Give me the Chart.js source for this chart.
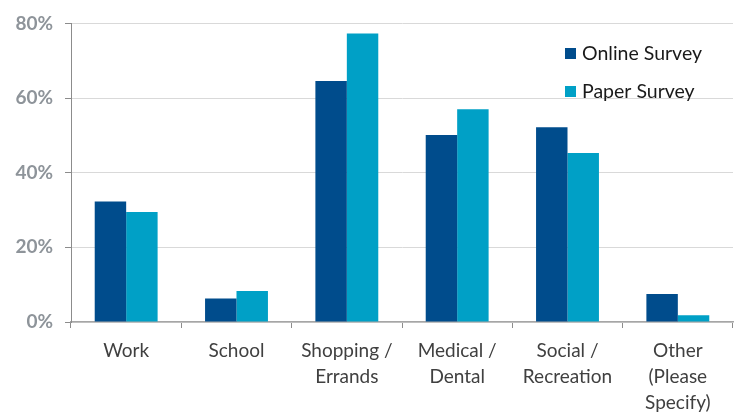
<!DOCTYPE html>
<html>
<head>
<meta charset="utf-8">
<script src="https://cdn.jsdelivr.net/npm/chart.js@4"></script>
<style>
  html, body { margin: 0; padding: 0; background: #ffffff; }
  #wrap { width: 742px; height: 417px; position: relative; }
</style>
</head>
<body>
<div id="wrap"><canvas id="trip_purpose_chart"></canvas></div>
<script>
const trip_categories = [
    ["Work"],
    ["School"],
    ["Shopping /", "Errands"],
    ["Medical /", "Dental"],
    ["Social /", "Recreation"],
    ["Other", "(Please", "Specify)"]
];
const online_survey_values = [32.3, 6.3, 64.6, 50.1, 52.2, 7.5];
const paper_survey_values = [29.5, 8.3, 77.3, 57.0, 45.3, 1.8];
const y_tick_values = [0, 20, 40, 60, 80];

const series_names = ["Online Survey", "Paper Survey"];
const series_colors = ["#004c8c", "#00a0c6"];

// legend drawn inside the plot, top right, like the original
const inside_legend = {
    id: "inside_legend",
    afterDraw(chart)
    {
        const ctx = chart.ctx;
        ctx.save();
        ctx.font = "19.5px Lato, 'Open Sans', sans-serif";
        ctx.textBaseline = "middle";
        chart.data.datasets.forEach((ds, i) =>
        {
            const y = 54 + i * 38;
            ctx.fillStyle = ds.backgroundColor;
            ctx.fillRect(565, y - 6, 11, 11);
            ctx.fillStyle = "#1a1a1a";
            ctx.fillText(ds.label, 582, y);
        });
        ctx.restore();
    }
};

const trip_purpose_chart = new Chart("trip_purpose_chart",
{
    type: "bar",
    data:
    {
        labels: trip_categories,
        datasets:
        [
            {
                label: series_names[0],
                data: online_survey_values,
                backgroundColor: series_colors[0],
                categoryPercentage: 0.57,
                barPercentage: 1.0
            },
            {
                label: series_names[1],
                data: paper_survey_values,
                backgroundColor: series_colors[1],
                categoryPercentage: 0.57,
                barPercentage: 1.0
            }
        ]
    },
    options:
    {
        animation: false,
        responsive: true,
        maintainAspectRatio: false,
        layout:
        {
            padding: { top: 16, right: 9, left: 0, bottom: 0 }
        },
        plugins:
        {
            legend: { display: false },
            tooltip: { enabled: false }
        },
        scales:
        {
            x:
            {
                grid:
                {
                    offset: true,
                    drawOnChartArea: false,
                    drawTicks: true,
                    tickLength: 6,
                    tickColor: "#8c8c8c"
                },
                border: { color: "#a6a6a6", width: 1.5 },
                ticks:
                {
                    color: "#404040",
                    font: { family: "Lato, 'Open Sans', sans-serif", size: 19, lineHeight: 1.37 },
                    padding: 10,
                    maxRotation: 0,
                    autoSkip: false
                },
                afterFit(scale) { scale.height = 95; }
            },
            y:
            {
                min: 0,
                max: 80,
                afterBuildTicks(scale)
                {
                    scale.ticks = y_tick_values.map(v => ({ value: v }));
                },
                grid:
                {
                    color: "#d9d9d9",
                    tickColor: "#8c8c8c",
                    tickLength: 6
                },
                border: { color: "#8c8c8c", width: 1 },
                ticks:
                {
                    color: "#8e949a",
                    font: { family: "Lato, 'Open Sans', sans-serif", size: 19, weight: "bold" },
                    padding: 12,
                    callback: v => v + "%"
                },
                afterFit(scale) { scale.width = 71; }
            }
        }
    },
    plugins: [inside_legend]
});
</script>
</body>
</html>
